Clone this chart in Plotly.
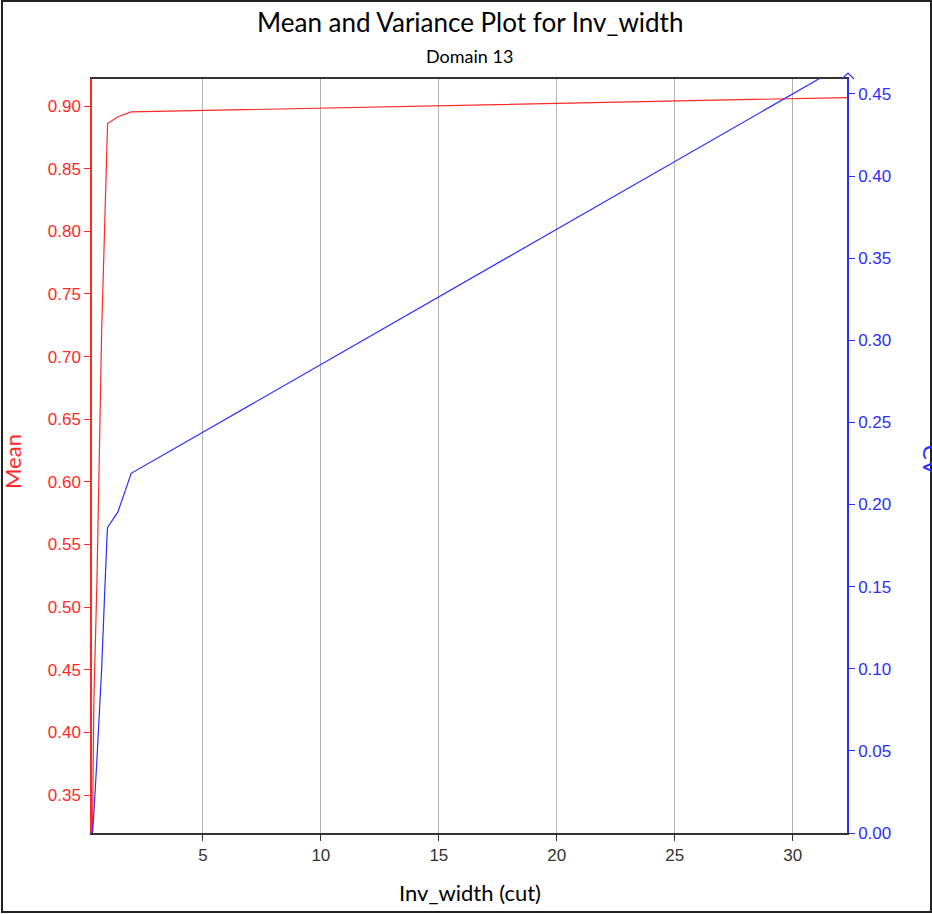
import plotly.graph_objects as go

# Data
cut_x = [0.32, 0.38, 0.51, 0.64, 0.71, 0.82, 0.85, 0.935, 0.96, 1.40, 1.96, 32.3]
mean_vals = [0.320, 0.426, 0.521, 0.650, 0.721, 0.793, 0.810, 0.865, 0.886, 0.8915, 0.8953, 0.9068]
cv_vals = [0.000, 0.012, 0.045, 0.081, 0.100, 0.140, 0.154, 0.180, 0.186, 0.1955, 0.219, 0.469]

x_ticks = [5, 10, 15, 20, 25, 30]
mean_ticks = [0.35, 0.40, 0.45, 0.50, 0.55, 0.60, 0.65, 0.70, 0.75, 0.80, 0.85, 0.90]
cv_ticks = [0.00, 0.05, 0.10, 0.15, 0.20, 0.25, 0.30, 0.35, 0.40, 0.45]

RED = "rgb(255,40,40)"
BLUE = "rgb(45,45,255)"
TICKFONT = "Liberation Sans"
TITLEFONT = "Lato"

W, H = 932, 914
L, R, T, B = 92, 847, 79, 833


def px(p):
    return (p - L) / (R - L)


def py(q):
    return (B - q) / (B - T)


fig = go.Figure()
fig.add_trace(go.Scatter(x=cut_x, y=mean_vals, mode="lines", line=dict(color=RED, width=1.2),
                         yaxis="y", showlegend=False))
fig.add_trace(go.Scatter(x=cut_x, y=cv_vals, mode="lines", line=dict(color=BLUE, width=1.2),
                         yaxis="y2", showlegend=False))

fig.update_layout(
    width=W, height=H,
    margin=dict(l=L, r=W - R, t=T, b=H - B),
    paper_bgcolor="white", plot_bgcolor="white",
    xaxis=dict(range=[0.3, 32.3], tickvals=x_ticks, ticktext=[str(v) for v in x_ticks],
               showgrid=True, gridcolor="#b4b4b4", gridwidth=1, zeroline=False,
               showline=True, linecolor="#333333", linewidth=1.5, mirror=True,
               ticks="outside", ticklen=6, tickcolor="#333333",
               tickfont=dict(family=TICKFONT, size=17, color="#333333")),
    yaxis=dict(range=[0.3197, 0.9216], tickvals=mean_ticks,
               ticktext=[f"{v:.2f}" for v in mean_ticks],
               showgrid=False, zeroline=False, showline=True, linecolor=RED, linewidth=1.5,
               ticks="outside", ticklen=6, tickcolor=RED,
               tickfont=dict(family=TICKFONT, size=17, color=RED)),
    yaxis2=dict(range=[0.0, 0.4591], tickvals=cv_ticks,
                ticktext=[f"{v:.2f}" for v in cv_ticks],
                overlaying="y", side="right", anchor="x",
                showgrid=False, zeroline=False, showline=True, linecolor=BLUE, linewidth=1.5,
                ticks="outside", ticklen=6, tickcolor=BLUE,
                tickfont=dict(family=TICKFONT, size=17, color=BLUE)),
)

annotations = [
    dict(text="Mean and Variance Plot for Inv_width", x=px(470), y=py(22),
         font=dict(family=TITLEFONT, size=26, color="black")),
    dict(text="Domain 13", x=px(469), y=py(56),
         font=dict(family=TITLEFONT, size=18, color="black")),
    dict(text="Inv_width (cut)", x=px(470), y=py(892),
         font=dict(family=TITLEFONT, size=22, color="black")),
    dict(text="Mean", x=px(12), y=py(462), textangle=-90,
         font=dict(family=TITLEFONT, size=22, color=RED)),
    dict(text="CV", x=px(932), y=py(460), textangle=90,
         font=dict(family=TITLEFONT, size=22, color=BLUE)),
]
for a in annotations:
    a.update(xref="paper", yref="paper", showarrow=False, xanchor="center", yanchor="middle")
fig.update_layout(annotations=annotations)

shapes = [
    dict(type="rect", xref="paper", yref="paper", x0=px(2), x1=px(931), y0=py(912), y1=py(1),
         line=dict(color="#222222", width=2), fillcolor="rgba(0,0,0,0)", layer="above"),
    dict(type="path", xref="paper", yref="paper",
         path=f"M {px(842)} {py(79)} L {px(848)} {py(73)} L {px(854)} {py(79)}",
         line=dict(color=BLUE, width=1.2)),
]
fig.update_layout(shapes=shapes)

fig.write_html("out.html", config={"displayModeBar": False},
               post_script="document.body.style.margin='0';document.body.style.overflow='hidden';")
